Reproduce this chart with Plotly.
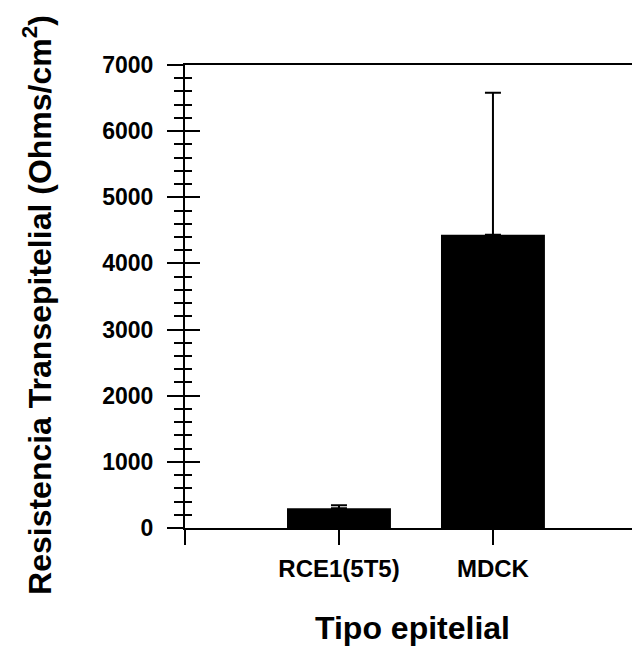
import plotly.graph_objects as go

categories = ["RCE1(5T5)", "MDCK"]
values = [298, 4435]
errors_up = [45, 2147]
y_ticks = [0, 1000, 2000, 3000, 4000, 5000, 6000, 7000]
x_title = "Tipo epitelial"
y_title = "Resistencia Transepitelial (Ohms/cm<sup>2</sup>)"

FONT = "Liberation Sans, Arial, Helvetica, sans-serif"
xpos = list(range(len(categories)))

fig = go.Figure()
fig.add_trace(go.Bar(
    x=xpos, y=values, width=0.675,
    marker=dict(color="black", line=dict(width=0)),
    error_y=dict(type="data", symmetric=False, array=errors_up,
                 arrayminus=[0] * len(values), color="black",
                 thickness=2, width=8),
    showlegend=False,
))
# invisible trace to host the second (inside-tick) y axis
fig.add_trace(go.Scatter(x=[xpos[0]], y=[0], yaxis="y2", mode="markers",
                         marker=dict(opacity=0), showlegend=False,
                         hoverinfo="skip"))

fig.update_layout(
    width=632, height=642,
    margin=dict(l=177, r=0, t=57, b=122),
    paper_bgcolor="white", plot_bgcolor="white",
    font=dict(family=FONT, color="black"),
    xaxis=dict(
        range=[-1, 1.955],
        tickmode="array", tickvals=[-1] + xpos + [2],
        ticktext=[" "] + categories + [" "],
        ticks="outside", ticklen=15, tickwidth=2, tickcolor="black",
        showline=True, linewidth=2, linecolor="black", mirror=True,
        showgrid=False, zeroline=False,
        tickfont=dict(size=24, family=FONT, weight="bold"),
        ticklabelstandoff=3,
        title=dict(text=x_title,
                   font=dict(size=32, family=FONT, weight="bold"),
                   standoff=36),
    ),
    yaxis=dict(
        range=[0, 7000], tickmode="array", tickvals=y_ticks,
        ticks="outside", ticklen=16, tickwidth=2, tickcolor="black",
        minor=dict(dtick=200, ticks="outside", ticklen=9, tickwidth=2,
                   tickcolor="black", showgrid=False),
        showline=True, linewidth=2, linecolor="black",
        showgrid=False, zeroline=False,
        tickfont=dict(size=23, family=FONT, weight="bold"),
        ticklabelstandoff=9,
    ),
    yaxis2=dict(
        range=[0, 7000], overlaying="y", side="left", anchor="x",
        tickmode="array", tickvals=y_ticks,
        ticks="inside", ticklen=15, tickwidth=2, tickcolor="black",
        minor=dict(dtick=200, ticks="inside", ticklen=7, tickwidth=2,
                   tickcolor="black", showgrid=False),
        showticklabels=False, showline=False, showgrid=False,
        zeroline=False,
    ),
    annotations=[dict(
        text=y_title, textangle=-90, showarrow=False,
        xref="paper", yref="paper", x=-0.325, y=0.482,
        xanchor="center", yanchor="middle",
        font=dict(size=32, family=FONT, weight="bold", color="black"),
    )],
)

fig.write_html("out.html")
